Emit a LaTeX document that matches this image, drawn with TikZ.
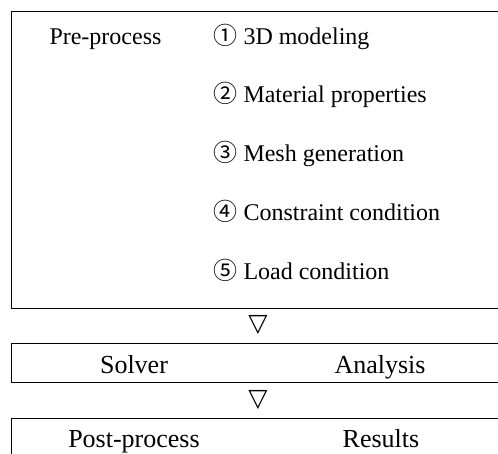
\documentclass[tikz,border=0pt]{standalone}
\usepackage{fontspec}
\setmainfont{Liberation Serif}
\newfontfamily\circfont{Noto Sans CJK SC}
\newfontfamily\symfont{DejaVu Sans}

\begin{document}
\begin{tikzpicture}[x=1pt, y=-1pt, line width=1pt,
    word/.style={font=\fontsize{24}{28}\selectfont, inner sep=0pt},
    bigword/.style={font=\fontsize{26}{30}\selectfont, inner sep=0pt},
    down/.style={font=\symfont\fontsize{25}{30}\selectfont, inner sep=0pt}]

  % Parameters
  \def\xl{11.5}    % left edge of the frames
  \def\xr{520}     % right edge (runs off the page)
  \def\xstep{213}  % left edge of the step list
  \def\dy{58.8}    % spacing of the steps

  \useasboundingbox (0,0) rectangle (498,453);
  \clip (0,0) rectangle (498,453);

  % --- Pre-process frame ---
  \draw (\xl,11.5) rectangle (\xr,308);
  \node[word, anchor=base west] (pre) at (49,44) {Pre-process};

  % Steps of the pre-process
  \foreach \n/\txt [count=\i] in {①/3D modeling, ②/Material properties,
      ③/Mesh generation, ④/Constraint condition, ⑤/Load condition}
    \node[word, anchor=base west] (step\i) at (\xstep,{44+(\i-1)*\dy})
      {{\circfont\n} \txt};

  % --- Solver frame ---
  \node[down] (arr1) at (258,325.5) {▽};
  \draw (\xl,343.5) rectangle (\xr,382);
  \node[bigword, anchor=base] (solver) at (134,373) {Solver};
  \node[bigword, anchor=base] (analysis) at (380,373) {Analysis};

  % --- Post-process frame ---
  \node[down] (arr2) at (258,400) {▽};
  \draw (\xl,418) rectangle (\xr,480);
  \node[bigword, anchor=base] (post) at (134,447) {Post-process};
  \node[bigword, anchor=base] (results) at (381,447) {Results};
\end{tikzpicture}
\end{document}
